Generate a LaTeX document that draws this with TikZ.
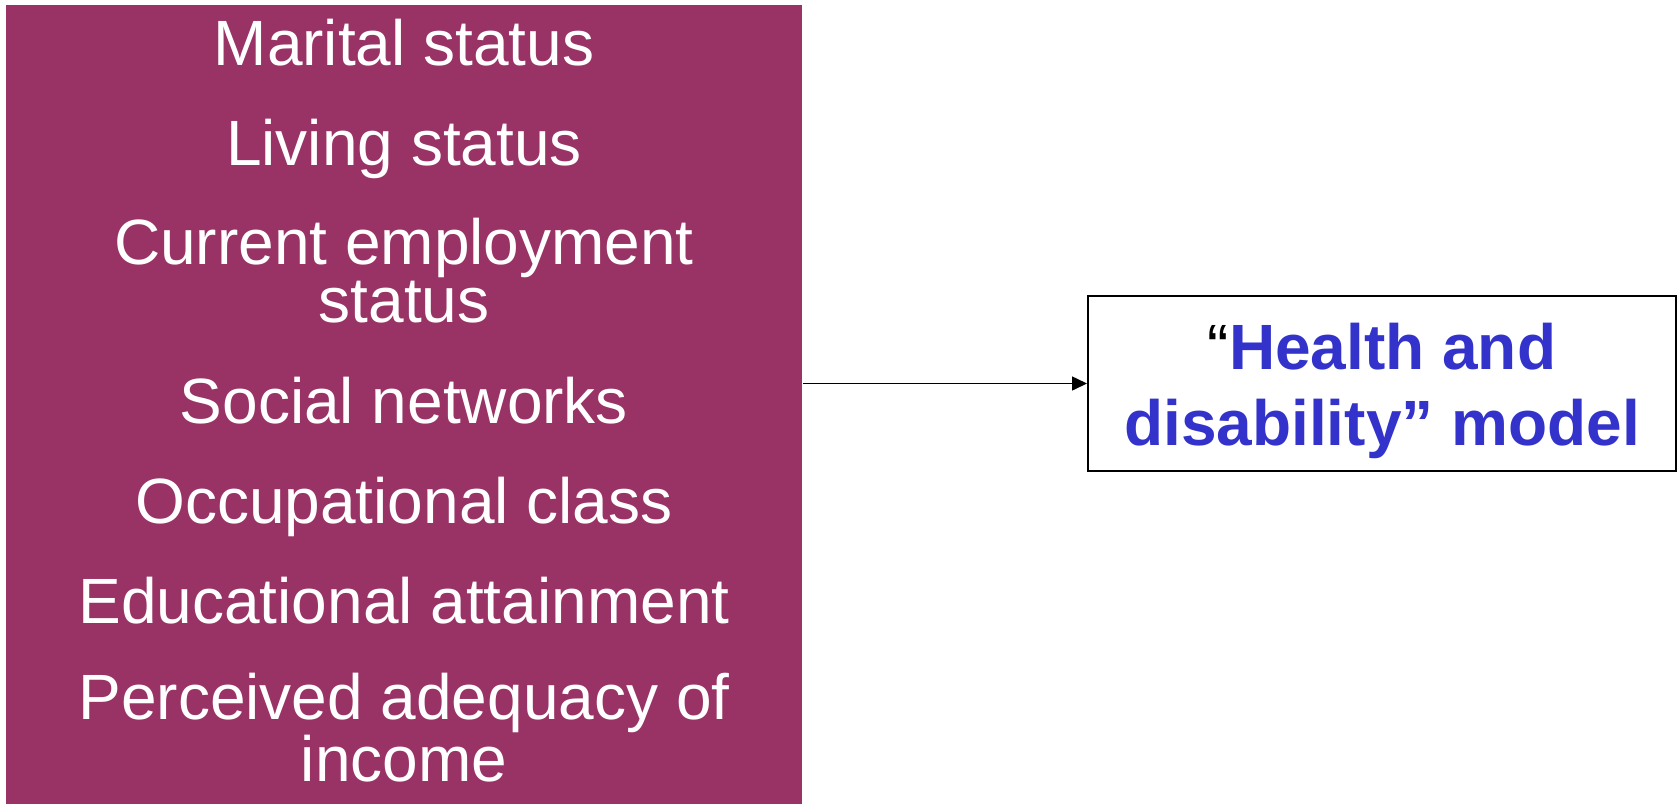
\documentclass[tikz,border=0pt]{standalone}
\usepackage{fontspec}
\setmainfont{Liberation Sans}
\usetikzlibrary{arrows.meta}
\definecolor{plum}{HTML}{993366}
\definecolor{modelblue}{HTML}{3333CC}
\tikzset{
  factor/.style={text=white, align=center, anchor=base,
    font=\fontsize{32}{29}\selectfont},
  modelbox/.style={draw, line width=1pt, minimum width=294pt, minimum height=87.5pt},
}
\begin{document}
\begin{tikzpicture}[x=0.5pt, y=-0.5pt]
  \useasboundingbox (0,0) rectangle (1679,804);

  % left block (base of a node = baseline of its last line)
  \node[fill=plum, inner sep=0pt, minimum width=398pt, minimum height=399.5pt,
        anchor=north west] (factors) at (6,5) {};
  \node[factor] (marital) at (404,65) {Marital status};
  \node[factor] (living) at (404,165) {Living status};
  \node[factor] (employ) at (404,322) {Current employment\\status};
  \node[factor] (social) at (404,423) {Social networks};
  \node[factor] (occup) at (404,523) {Occupational class};
  \node[factor] (educ) at (404,623) {Educational attainment};
  \node[factor] (income) at (404,781) {Perceived adequacy of\\income};

  % model box
  \node[modelbox] (model) at (1382,383.5) {};
  \node[align=center, anchor=base, font=\fontsize{32}{38}\selectfont\bfseries,
        text=modelblue] (modeltext) at (1382,445)
        {\textcolor{black}{\mdseries“}Health and\\disability” model};

  \draw[line width=0.75pt, -{Triangle[length=7.5pt, width=7pt]}]
    (factors.east |- model.west) -- (model.west);
\end{tikzpicture}
\end{document}
